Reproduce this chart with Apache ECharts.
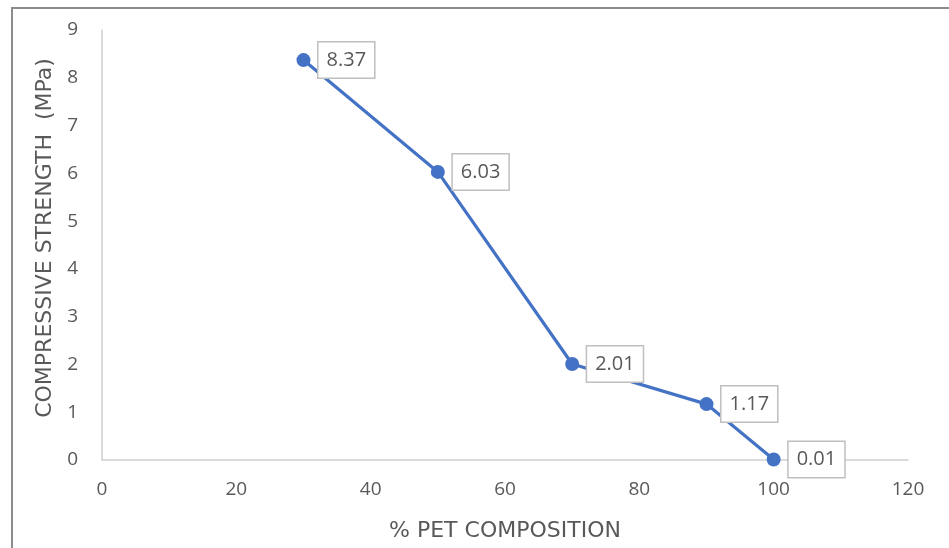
<!DOCTYPE html>
<html><head><meta charset="utf-8">
<script src="https://cdn.jsdelivr.net/npm/echarts@6/dist/echarts.min.js"></script>
<style>html,body{margin:0;padding:0;background:#fff}#c{width:949px;height:548px}</style>
</head><body><div id="c"></div>
<script>
const petComposition = [30, 50, 70, 90, 100];
const compressiveStrength = [8.37, 6.03, 2.01, 1.17, 0.01];
const xTitle = '% PET COMPOSITION';
const yTitle = 'COMPRESSIVE STRENGTH  (MPa)';

const chart = echarts.init(document.getElementById('c'), null, {renderer: 'canvas'});
const font = '"Open Sans", "Noto Sans", sans-serif';
const titleFont = '"DejaVu Sans", "Open Sans", sans-serif';
const txt = '#595959';
chart.setOption({
  animation: false,
  backgroundColor: '#fff',
  graphic: [{
    type: 'rect', shape: {x: 12, y: 8, width: 960, height: 600},
    style: {fill: 'none', stroke: '#8c8c8c', lineWidth: 2}, z: 0
  }],
  grid: {left: 102, top: 30, right: 41, bottom: 88, containLabel: false, outerBoundsMode: 'none'},
  xAxis: {
    type: 'value', min: 0, max: 120, interval: 20,
    name: xTitle, nameLocation: 'middle', nameGap: 60,
    nameTextStyle: {color: txt, fontSize: 22, fontFamily: titleFont},
    axisLine: {show: true, lineStyle: {color: '#cfcfcf', width: 1.5}},
    axisTick: {show: false},
    splitLine: {show: false},
    axisLabel: {color: txt, fontSize: 19, fontFamily: font, margin: 20}
  },
  yAxis: {
    type: 'value', min: 0, max: 9, interval: 1,
    name: yTitle, nameLocation: 'middle', nameGap: 43, nameRotate: 90,
    nameTextStyle: {color: txt, fontSize: 22, fontFamily: titleFont, padding: [0, 0, 0, 14]},
    axisLine: {show: true, lineStyle: {color: '#cfcfcf', width: 1.5}},
    axisTick: {show: false},
    splitLine: {show: false},
    axisLabel: {color: txt, fontSize: 19, fontFamily: font, margin: 24}
  },
  series: [{
    type: 'line',
    data: petComposition.map((x, i) => [x, compressiveStrength[i]]),
    symbol: 'circle', symbolSize: 14,
    lineStyle: {color: '#4472C4', width: 3.2},
    itemStyle: {color: '#4472C4'},
    label: {
      show: true, position: 'right', distance: 8,
      formatter: p => compressiveStrength[p.dataIndex].toFixed(2),
      color: txt, fontSize: 20, fontFamily: font,
      backgroundColor: '#fff', borderColor: '#bfbfbf', borderWidth: 1.5,
      padding: [8, 8, 7, 8]
    }
  }]
});
</script></body></html>
